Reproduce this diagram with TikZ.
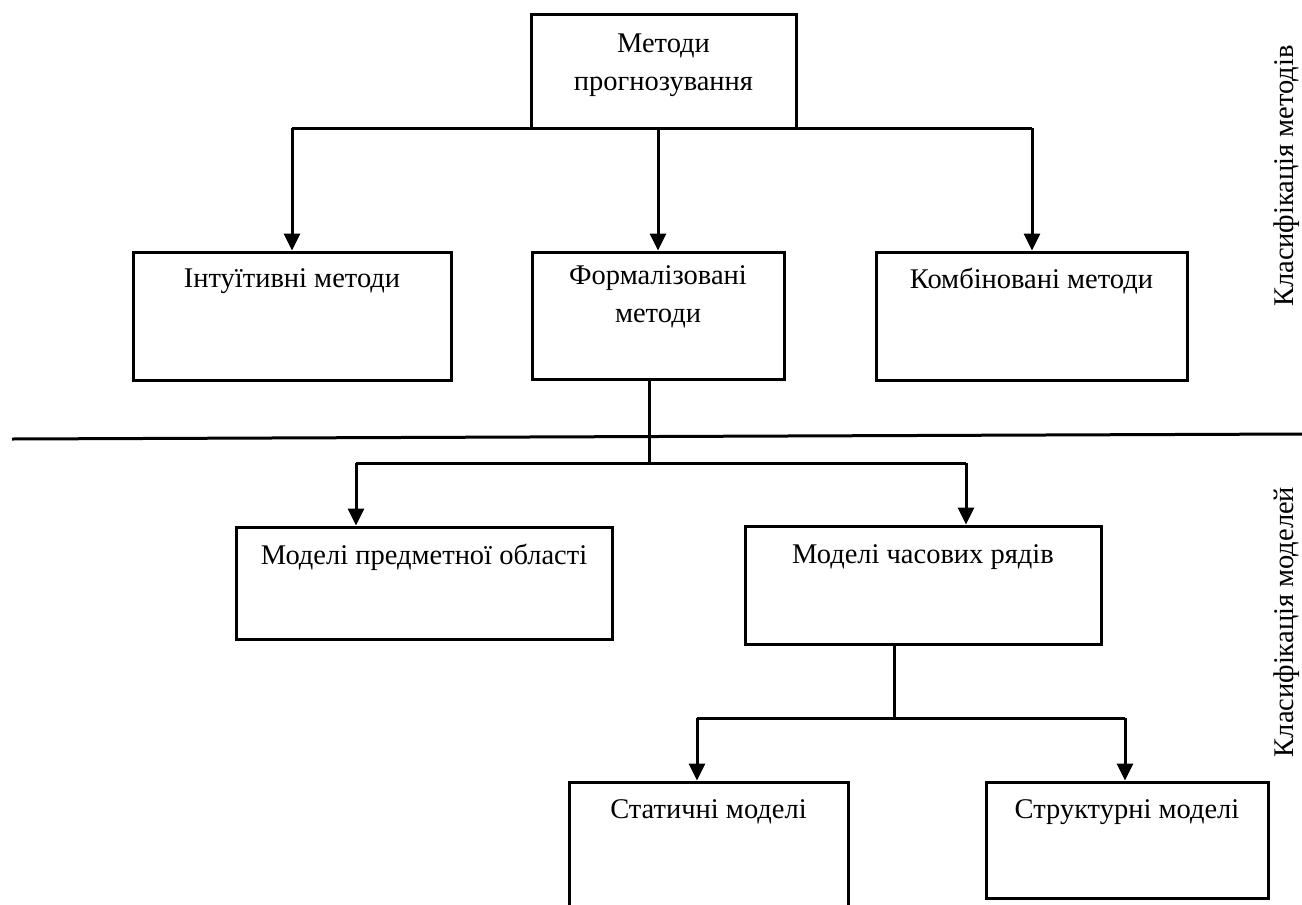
\documentclass[tikz,border=0pt]{standalone}
\usepackage{fontspec}
\setmainfont{Liberation Serif}
\usetikzlibrary{arrows.meta}
\begin{document}
\begin{tikzpicture}[x=1bp,y=-1bp,
  box/.style={draw,line width=3bp,inner sep=0pt,minimum width=#1},
  lbl/.style={font=\fontsize{28.6}{38}\selectfont,align=center,inner sep=0pt},
  conn/.style={line width=3bp},
  arr/.style={line width=3bp,-{Triangle[width=16bp,length=17bp]}}]
\useasboundingbox (0,0) rectangle (1302,904);
% boxes
\node[box=265bp,minimum height=113bp] (top) at (663.5,71.5) {};
\node[box=318bp,minimum height=128bp] (intu) at (292,316) {};
\node[box=252bp,minimum height=127bp] (form) at (658,315.5) {};
\node[box=311bp,minimum height=128bp] (komb) at (1031.5,316) {};
\node[box=376bp,minimum height=112bp] (predm) at (424,583) {};
\node[box=356bp,minimum height=118bp] (chas) at (923,585) {};
\node[box=279bp,minimum height=134bp] (stat) at (708.5,849) {};
\node[box=282bp,minimum height=116bp] (struc) at (1127,840) {};
% labels
\node[lbl] (ttop) at (663.5,65) {Методи\\прогнозування};
\node[lbl] (tintu) at (292,281) {Інтуїтивні методи};
\node[lbl] (tform) at (658,297) {Формалізовані\\методи};
\node[lbl] (tkomb) at (1031.5,281) {Комбіновані методи};
\node[lbl] (tpredm) at (424,557) {Моделі предметної області};
\node[lbl] (tchas) at (923,557) {Моделі часових рядів};
\node[lbl] (tstat) at (708.5,812) {Статичні моделі};
\node[lbl] (tstruc) at (1127,812) {Структурні моделі};
\node[lbl,rotate=90] (cm) at (1287,176) {Класифікація методів};
\node[lbl,rotate=90] (cmod) at (1287,622) {Класифікація моделей};
% separator
\coordinate (sepL) at (12,439);
\coordinate (sepR) at (1302,434);
\draw[conn] (sepL) -- (sepR);
% level 1
\coordinate (b1L) at (292,128);
\coordinate (b1R) at (1032,128);
\draw[conn] (b1L) -- (b1R);
\draw[arr] (b1L) -- (b1L |- intu.north);
\draw[arr] (658,128) -- (form.north);
\draw[arr] (b1R) -- (b1R |- komb.north);
% level 2
\coordinate (j2) at (649,463);
\coordinate (b2L) at (356,463);
\coordinate (b2R) at (966,463);
\draw[conn] (j2 |- form.south) -- (j2);
\draw[conn] (b2L) -- (b2R);
\draw[arr] (b2L) -- (b2L |- predm.north);
\draw[arr] (b2R) -- (b2R |- chas.north);
% level 3
\coordinate (j3) at (894,718);
\coordinate (b3L) at (697,718);
\coordinate (b3R) at (1125,718);
\draw[conn] (j3 |- chas.south) -- (j3);
\draw[conn] (b3L) -- (b3R);
\draw[arr] (b3L) -- (b3L |- stat.north);
\draw[arr] (b3R) -- (b3R |- struc.north);
\end{tikzpicture}
\end{document}
